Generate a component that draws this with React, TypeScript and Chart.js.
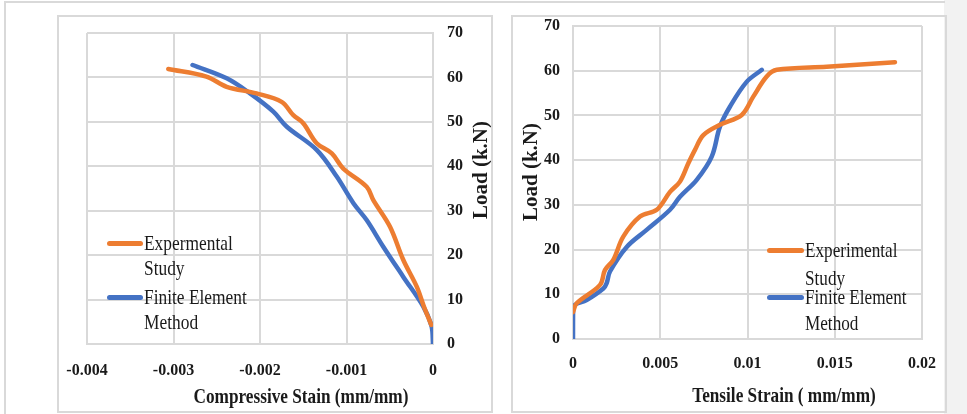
import React, { useEffect, useRef } from "react";
import { Chart, registerables } from "chart.js";
Chart.register(...registerables);

// ---------- data ----------
const compExpStrain = [-0.00306, -0.00262, -0.002385, -0.00204, -0.00175, -0.001615, -0.0015, -0.001345, -0.00117, -0.001037, -0.000767, -0.00069, -0.000497, -0.000343, -0.000188, -0.000104, -0.00002];
const compExpLoad = [61.9, 60.2, 57.9, 56.4, 54.5, 51.5, 49.7, 45.2, 42.9, 39.5, 35.4, 32.4, 26.4, 18.9, 12.9, 8.4, 4.3];
const compFemStrain = [-0.00278, -0.002385, -0.002115, -0.001846, -0.00169, -0.001345, -0.001113, -0.00092, -0.000767, -0.000575, -0.000343, -0.000112, -0.000015, 0];
const compFemLoad = [62.8, 59.8, 56.4, 52.3, 48.9, 43.7, 37.7, 31.7, 27.9, 21.9, 15.1, 8.4, 3.9, 0];

const tensExpStrain = [0, 0.00021, 0.00155, 0.00183, 0.00231, 0.00288, 0.00384, 0.0048, 0.00556, 0.00613, 0.00661, 0.00699, 0.00747, 0.00842, 0.00967, 0.01033, 0.0111, 0.01168, 0.01454, 0.01845];
const tensExpLoad = [6, 8, 12.1, 15.4, 17.7, 22.9, 27.4, 28.9, 32.9, 35.2, 39.3, 42.3, 45.6, 47.9, 50.1, 54.2, 58.7, 60.2, 60.9, 61.9];
const tensFemStrain = [0, 0.00001, 0.00078, 0.00174, 0.00193, 0.00212, 0.00308, 0.00422, 0.00556, 0.00613, 0.00709, 0.00795, 0.00842, 0.009, 0.00995, 0.01082];
const tensFemLoad = [0, 7.2, 8.7, 11.3, 12.5, 15.1, 20.6, 24.4, 28.9, 31.8, 35.6, 40.8, 47.5, 52, 57.5, 60.2];

const compXTicks = ["-0.004", "-0.003", "-0.002", "-0.001", "0"];
const tensXTicks = ["0", "0.005", "0.01", "0.015", "0.02"];
const loadTicks = ["0", "10", "20", "30", "40", "50", "60", "70"];

const compLegend = [["Expermental", "Study"], ["Finite Element", "Method"]];
const tensLegend = [["Experimental", "Study"], ["Finite Element", "Method"]];

const compXTitle = "Compressive Stain (mm/mm)";
const tensXTitle = "Tensile Strain ( mm/mm)";
const loadTitle = "Load (k.N)";

const ORANGE = "#ED7D31";
const BLUE = "#4472C4";
const GRID = "#d9d9d9";
const SERIF = '"Liberation Serif", "Times New Roman", serif';

function pts(xs: number[], ys: number[]) {
  return xs.map((x, i) => ({ x, y: ys[i] }));
}

type Cfg = {
  expX: number[]; expY: number[]; femX: number[]; femY: number[];
  xMin: number; xMax: number; xStep: number; xTicks: string[];
  yPos: "left" | "right";
  pad: { left: number; right: number; top: number; bottom: number };
  yWidth: number; xHeight: number; xPad: number; yPad: number;
  xTitle: string; xTitleDx: number; xTitleDy: number; xTitleScale: number;
  yTitleX: number; yTitleY: number;
};

function zeroPad(s: any) {
  s.paddingLeft = 0; s.paddingRight = 0; s.paddingTop = 0; s.paddingBottom = 0;
}

function ChartBox({ cfg, style }: { cfg: Cfg; style: React.CSSProperties }) {
  const ref = useRef<HTMLCanvasElement>(null);
  useEffect(() => {
    const titles = {
      id: "titles",
      afterDraw(chart: any) {
        const { ctx, chartArea } = chart;
        ctx.save();
        ctx.fillStyle = "#1a1a1a";
        ctx.font = `bold 21px ${SERIF}`;
        ctx.textAlign = "center";
        ctx.textBaseline = "middle";
        ctx.save();
        ctx.translate(chartArea.left + cfg.xTitleDx, chartArea.bottom + cfg.xTitleDy);
        ctx.scale(cfg.xTitleScale, 1);
        ctx.fillText(cfg.xTitle, 0, 0);
        ctx.restore();
        ctx.save();
        ctx.translate(cfg.yTitleX, cfg.yTitleY);
        ctx.rotate(-Math.PI / 2);
        ctx.fillText(loadTitle, 0, 0);
        ctx.restore();
        ctx.restore();
      },
    };
    const chart = new Chart(ref.current!, {
      type: "line",
      data: {
        datasets: [
          { data: pts(cfg.expX, cfg.expY), borderColor: ORANGE, borderWidth: 4.5, tension: 0.35, pointRadius: 0, borderCapStyle: "round", fill: false },
          { data: pts(cfg.femX, cfg.femY), borderColor: BLUE, borderWidth: 4.5, tension: 0.35, pointRadius: 0, borderCapStyle: "round", fill: false },
        ],
      },
      options: {
        animation: false,
        responsive: false,
        maintainAspectRatio: false,
        layout: { padding: cfg.pad },
        plugins: { legend: { display: false }, tooltip: { enabled: false }, title: { display: false } },
        scales: {
          x: {
            type: "linear",
            position: "bottom",
            min: cfg.xMin,
            max: cfg.xMax,
            afterFit: (s: any) => { s.height = cfg.xHeight; zeroPad(s); },
            afterBuildTicks: (s: any) => {
              s.ticks = cfg.xTicks.map((_, i) => ({ value: cfg.xMin + i * cfg.xStep }));
            },
            ticks: {
              padding: cfg.xPad,
              maxRotation: 0,
              autoSkip: false,
              color: "#1a1a1a",
              font: { family: SERIF, size: 16, weight: "bold" },
              callback: (_v: any, i: number) => cfg.xTicks[i],
            },
            grid: { color: GRID, lineWidth: 2, drawTicks: false },
            border: { display: true, color: GRID, width: 2 },
          },
          y: {
            type: "linear",
            position: cfg.yPos,
            min: 0,
            max: 70,
            afterFit: (s: any) => { s.width = cfg.yWidth; zeroPad(s); },
            ticks: {
              stepSize: 10,
              padding: cfg.yPad,
              color: "#1a1a1a",
              font: { family: SERIF, size: 16, weight: "bold" },
              callback: (_v: any, i: number) => loadTicks[i],
            },
            grid: { color: GRID, lineWidth: 2, drawTicks: false },
            border: { display: true, color: GRID, width: 2 },
          },
        },
      },
      plugins: [titles],
    } as any);
    return () => chart.destroy();
  }, [cfg]);
  return <canvas ref={ref} width={432} height={394} style={{ position: "absolute", ...style }} />;
}

function Legend({ items, left, rows, lineLeft, lineW, scale }: { items: string[][]; left: number; rows: number[]; lineLeft: number; lineW: number; scale: number }) {
  const colors = [ORANGE, BLUE];
  const els: React.ReactNode[] = [];
  items.forEach((lines, k) => {
    els.push(
      <div key={"l" + k} style={{ position: "absolute", left: lineLeft, top: rows[k * 2] - 2.5, width: lineW, height: 5, borderRadius: 2.5, background: colors[k] }} />
    );
    lines.forEach((t, j) => {
      els.push(
        <div key={"t" + k + j} style={{ position: "absolute", left, top: rows[k * 2 + j] - 13, height: 26, lineHeight: "26px", fontFamily: SERIF, fontSize: 22, color: "#1a1a1a", whiteSpace: "nowrap", transform: `scaleX(${scale})`, transformOrigin: "left center" }}>{t}</div>
      );
    });
  });
  return <>{els}</>;
}

const leftCfg: Cfg = {
  expX: compExpStrain, expY: compExpLoad, femX: compFemStrain, femY: compFemLoad,
  xMin: -0.004, xMax: 0, xStep: 0.001, xTicks: compXTicks,
  yPos: "right",
  pad: { left: 28, right: 0, top: 16, bottom: 0 },
  yWidth: 58, xHeight: 67, xPad: 17, yPad: 14,
  xTitle: compXTitle, xTitleDx: 214, xTitleDy: 54, xTitleScale: 0.82,
  yTitleX: 482 - 59, yTitleY: 170 - 17,
};

const rightCfg: Cfg = {
  expX: tensExpStrain, expY: tensExpLoad, femX: tensFemStrain, femY: tensFemLoad,
  xMin: 0, xMax: 0.02, xStep: 0.005, xTicks: tensXTicks,
  yPos: "left",
  pad: { left: 0, right: 23, top: 9, bottom: 0 },
  yWidth: 60, xHeight: 72, xPad: 15, yPad: 13,
  xTitle: tensXTitle, xTitleDx: 211, xTitleDy: 58, xTitleScale: 0.82,
  yTitleX: 532 - 513, yTitleY: 172 - 17,
};

export default function App() {
  return (
    <div style={{ position: "fixed", left: 0, top: 0, width: 967, height: 414, background: "#ffffff", overflow: "hidden" }}>
      <div style={{ position: "absolute", left: 944, top: 0, width: 23, height: 414, background: "#f2f2f2" }} />
      <div style={{ position: "absolute", left: 4, top: 1, width: 941, height: 2, background: GRID }} />
      <div style={{ position: "absolute", left: 4, top: 1, width: 2, height: 413, background: GRID }} />
      <div style={{ position: "absolute", left: 57, top: 15, width: 432, height: 394, border: `2px solid ${GRID}` }} />
      <div style={{ position: "absolute", left: 511, top: 15, width: 432, height: 394, border: `2px solid ${GRID}` }} />
      <ChartBox cfg={leftCfg} style={{ left: 59, top: 17 }} />
      <ChartBox cfg={rightCfg} style={{ left: 513, top: 17 }} />
      <Legend items={compLegend} left={144} rows={[243, 268, 297, 322]} lineLeft={107} lineW={36} scale={0.79} />
      <Legend items={tensLegend} left={805} rows={[250, 278, 297, 323]} lineLeft={767} lineW={37} scale={0.78} />
    </div>
  );
}
